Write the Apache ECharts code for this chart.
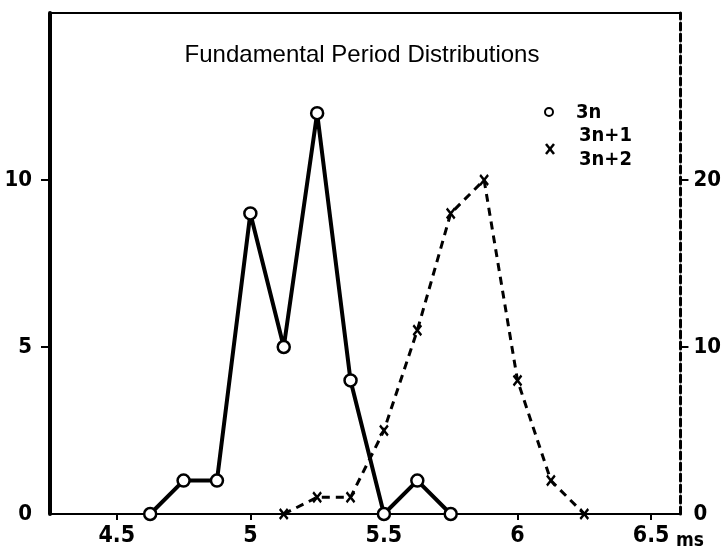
<!DOCTYPE html>
<html>
<head>
<meta charset="utf-8">
<script src="https://cdn.jsdelivr.net/npm/echarts@6/dist/echarts.min.js"></script>
<style>html,body{margin:0;padding:0;background:#fff}#c{width:724px;height:551px}</style>
</head>
<body>
<div id="c"></div>
<script>
// Data
const title = 'Fundamental Period Distributions';
const periods3n = [4.625, 4.75, 4.875, 5.0, 5.125, 5.25, 5.375, 5.5, 5.625, 5.75];
const counts3n = [0, 1, 1, 9, 5, 12, 4, 0, 1, 0];
const periodsOther = [5.125, 5.25, 5.375, 5.5, 5.625, 5.75, 5.875, 6.0, 6.125, 6.25];
const countsOther = [0, 1, 1, 5, 11, 18, 20, 8, 2, 0];
const xTicks = [4.5, 5, 5.5, 6, 6.5];
const xTickLabels = ['4.5', '5', '5.5', '6', '6.5'];
const leftTicks = [0, 5, 10];
const rightTicks = [0, 10, 20];
const legendNames = ['3n', '3n+1', '3n+2'];

const FONT = '"DejaVu Sans Condensed", "Liberation Sans", sans-serif';
const CROSS = 'path://M0,0L10,12M10,0L0,12';

const chart = echarts.init(document.getElementById('c'), null, {renderer: 'canvas'});
chart.setOption({
  backgroundColor: '#fff',
  animation: false,
  title: {
    text: title, left: 'center', top: 38,
    textStyle: {fontFamily: '"Liberation Sans", Arial, sans-serif', fontSize: 24, fontWeight: 'normal', color: '#000'}
  },
  grid: {left: 50, right: 38, top: 13, bottom: 37},
  xAxis: [{
    type: 'value', min: 4.25, max: 6.61, position: 'bottom',
    axisLine: {onZero: false, lineStyle: {color: '#000', width: 2}},
    axisTick: {show: true, inside: false, length: 6, customValues: xTicks, lineStyle: {color: '#000', width: 2}},
    axisLabel: {customValues: xTicks, formatter: v => xTickLabels[xTicks.indexOf(v)] || '', margin: 11,
      fontFamily: FONT, fontSize: 23, fontWeight: 'bold', color: '#000'},
    splitLine: {show: false}
  }, {
    type: 'value', min: 4.25, max: 6.61, position: 'top',
    axisLine: {onZero: false, lineStyle: {color: '#000', width: 2}},
    axisTick: {show: false}, axisLabel: {show: false}, splitLine: {show: false}
  }],
  yAxis: [{
    type: 'value', min: 0, max: 15, position: 'left',
    axisLine: {show: true, onZero: false, lineStyle: {color: '#000', width: 4}},
    axisTick: {show: true, length: 9, customValues: leftTicks.filter(v => v > 0), lineStyle: {color: '#000', width: 2}},
    axisLabel: {customValues: leftTicks, margin: 18, fontFamily: FONT, fontSize: 22, fontWeight: 'bold', color: '#000'},
    splitLine: {show: false}
  }, {
    type: 'value', min: 0, max: 30, position: 'right',
    axisLine: {show: true, onZero: false, lineStyle: {color: '#000', width: 3, type: [7, 4]}},
    axisTick: {show: true, length: 8, customValues: rightTicks.filter(v => v > 0), lineStyle: {color: '#000', width: 2}},
    axisLabel: {customValues: rightTicks, margin: 13, fontFamily: FONT, fontSize: 22, fontWeight: 'bold', color: '#000'},
    splitLine: {show: false}
  }],
  series: [{
    name: legendNames[0], type: 'line', xAxisIndex: 0, yAxisIndex: 0,
    data: periods3n.map((x, i) => [x, counts3n[i]]),
    lineStyle: {color: '#000', width: 4},
    symbol: 'circle', symbolSize: 12,
    itemStyle: {color: '#fff', borderColor: '#000', borderWidth: 2.5},
    z: 4
  }, {
    name: legendNames[1] + ', ' + legendNames[2], type: 'line', xAxisIndex: 0, yAxisIndex: 1,
    data: periodsOther.map((x, i) => [x, countsOther[i]]),
    lineStyle: {color: '#000', width: 3, type: [8, 6]},
    symbol: CROSS, symbolSize: [8, 10],
    itemStyle: {color: 'none', borderColor: '#000', borderWidth: 2.5},
    z: 3
  }],
  graphic: [
    {type: 'circle', shape: {cx: 549, cy: 112, r: 4}, style: {fill: '#fff', stroke: '#000', lineWidth: 2}},
    {type: 'text', style: {x: 576, y: 113, text: legendNames[0], fill: '#000', font: 'bold 20px ' + FONT, verticalAlign: 'middle'}},
    {type: 'text', style: {x: 579, y: 136, text: legendNames[1], fill: '#000', font: 'bold 20px ' + FONT, verticalAlign: 'middle'}},
    {type: 'text', style: {x: 579, y: 160, text: legendNames[2], fill: '#000', font: 'bold 20px ' + FONT, verticalAlign: 'middle'}},
    {type: 'polyline', shape: {points: [[546, 144], [554, 154]]}, style: {stroke: '#000', lineWidth: 2.5}},
    {type: 'polyline', shape: {points: [[554, 144], [546, 154]]}, style: {stroke: '#000', lineWidth: 2.5}},
    {type: 'text', style: {x: 676, y: 541, text: 'ms', fill: '#000', font: 'bold 19px ' + FONT, verticalAlign: 'middle'}}
  ]
});
</script>
</body>
</html>
